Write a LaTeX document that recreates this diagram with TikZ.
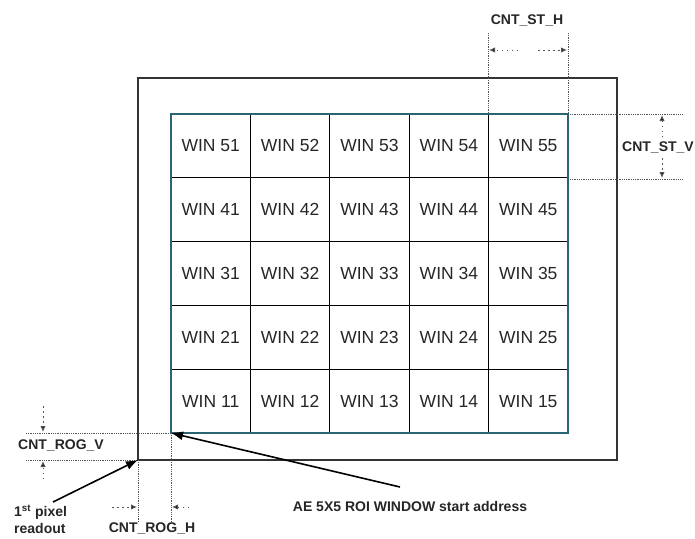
\documentclass[tikz,border=0pt]{standalone}
\usepackage{fontspec}
\setmainfont{Liberation Sans}
\usetikzlibrary{arrows.meta}
\definecolor{gridteal}{HTML}{2B6472}
\definecolor{frame}{HTML}{333333}
\definecolor{dimgray}{HTML}{555555}
\begin{document}
\begin{tikzpicture}[x=1pt,y=-1pt,
  wintext/.style={font=\fontsize{17.5}{17.5}\selectfont, text=black!85},
  lbl/.style={font=\fontsize{14}{14}\selectfont\bfseries, text=black!85, inner sep=0pt},
  dimline/.style={dimgray, densely dotted, line width=0.8pt},
  dimarrow/.style={dimgray, line width=1pt, dash pattern=on 1.5pt off 3.5pt, -{Latex[length=6pt,width=5.5pt,fill=black]}},
  callout/.style={black, line width=1.6pt, -{Latex[length=12pt,width=9pt]}}]
\useasboundingbox (0,0) rectangle (695,538);
% outer frame
\draw[frame, line width=1.6pt] (138,78) rectangle (617,460);
% grid
\foreach \r [count=\i from 0] in {5,4,3,2,1}{
  \foreach \c [count=\j from 0] in {1,2,3,4,5}{
    \node[wintext, draw=black, line width=0.8pt, minimum width=79.4pt, minimum height=63.8pt, inner sep=0pt]
      (w\r\c) at ({171+79.4*\j+39.7},{114+63.8*\i+31.9}) {WIN \r\c};
  }
}
\draw[gridteal, line width=1.8pt] (171,114) rectangle (568,433);
\coordinate (roi) at (171,433);
\coordinate (px) at (138,460);
% CNT_ST_H
\node[lbl] (sth) at (527,20) {CNT\_ST\_H};
\draw[dimline] (488,33) -- (488,114);
\draw[dimline] (568,33) -- (568,114);
\draw[dimarrow] (518,50) -- (489,50);
\draw[dimarrow] (538,50) -- (567,50);
% CNT_ST_V
\node[lbl, anchor=west] (stv) at (622,147) {CNT\_ST\_V};
\draw[dimline] (570,114) -- (682,114);
\draw[dimline] (570,179) -- (682,179);
\draw[dimarrow] (662,137) -- (662,115);
\draw[dimarrow] (662,158) -- (662,178);
% CNT_ROG_V
\node[lbl, anchor=west] (rogv) at (18,445) {CNT\_ROG\_V};
\draw[dimline] (26,433) -- (171,433);
\draw[dimline] (26,460) -- (138,460);
\draw[dimarrow] (43,406) -- (43,432);
\draw[dimarrow] (43,479) -- (43,461);
% CNT_ROG_H
\node[lbl] (rogh) at (152,528) {CNT\_ROG\_H};
\draw[dimline] (138,460) -- (138,522);
\draw[dimline] (171,433) -- (171,522);
\draw[dimarrow] (112,507) -- (137,507);
\draw[dimarrow] (189,507) -- (172,507);
% 1st pixel readout
\node[lbl, anchor=west, align=left, font=\fontsize{14}{17}\selectfont\bfseries] (first) at (14,519) {1\textsuperscript{st} pixel\\readout};
\draw[callout] (53,502) -- (px);
% AE window
\node[lbl] (ae) at (410,506) {AE 5X5 ROI WINDOW start address};
\draw[callout] (400,487) -- (roi);
\end{tikzpicture}
\end{document}
